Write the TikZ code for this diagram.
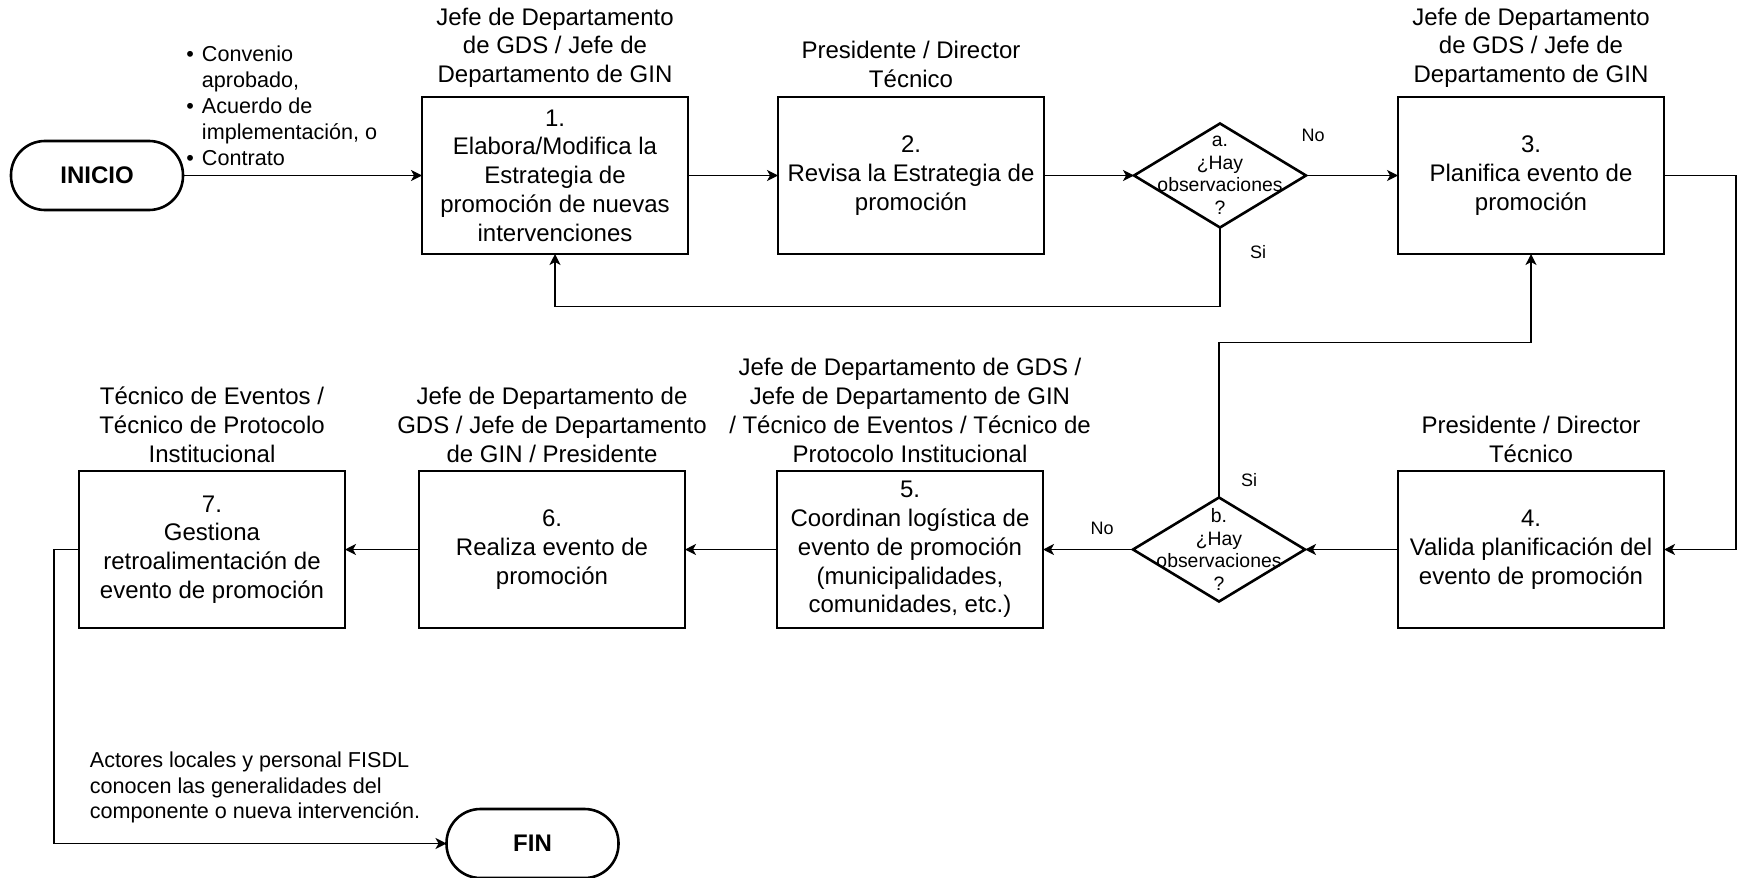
\documentclass[tikz,border=0pt]{standalone}
\usepackage{fontspec}
\setmainfont{Liberation Sans}
\usetikzlibrary{positioning, arrows.meta, shapes.geometric}

\begin{document}
\begin{tikzpicture}[
        node distance=45pt,
        every node/.style={font=\fontsize{12}{14.4}\selectfont},
        task/.style={rectangle, draw, line width=1.3pt, outer sep=0pt, minimum width=133pt, minimum height=78.5pt, align=center, inner sep=2pt},
        terminal/.style={rectangle, rounded corners=17pt, draw, line width=1.3pt, outer sep=0pt, minimum width=86pt, minimum height=34.5pt, font=\fontsize{12}{14.4}\selectfont\bfseries},
        decision/.style={diamond, draw, line width=1.3pt, outer sep=0pt, minimum width=86pt, minimum height=52pt, inner sep=0pt},
        role/.style={align=center, inner sep=0pt},
        note/.style={align=left, inner sep=0pt, font=\fontsize{10.8}{13}\selectfont},
        lbl/.style={inner sep=0pt, font=\fontsize{9}{11.25}\selectfont},
        edge/.style={-{Stealth[length=5.5pt, width=5.5pt, inset=1.5pt]}, line width=0.65pt}
    ]
        \useasboundingbox (0,0) rectangle (871.5pt,-438.5pt);
        % Top row
        \node[task] (t1) at (277.5pt,-87.75pt) {1.\\Elabora/Modifica la\\Estrategia de\\promoción de nuevas\\intervenciones};
        \node[terminal, left=119.5pt of t1] (ini) {INICIO};
        \node[task, right=of t1] (t2) {2.\\Revisa la Estrategia de\\promoción};
        \node[decision, right=of t2, label={[lbl, align=center, font=\fontsize{9.7}{11.25}\selectfont]center:a.\\¿Hay\\observaciones\\?}] (d1) {};
        \node[task, right=46pt of d1] (t3) {3.\\Planifica evento de\\promoción};
        % Bottom row
        \node[task, below=108.5pt of t3] (t4) {4.\\Valida planificación del\\evento de promoción};
        \node[decision, left=46.5pt of t4, label={[lbl, align=center, font=\fontsize{9.7}{11.25}\selectfont]center:b.\\¿Hay\\observaciones\\?}] (d2) {};
        \node[task, left=of d2] (t5) {5.\\Coordinan logística de\\evento de promoción\\(municipalidades,\\comunidades, etc.)};
        \node[task, left=46pt of t5] (t6) {6.\\Realiza evento de\\promoción};
        \node[task, left=37pt of t6] (t7) {7.\\Gestiona\\retroalimentación de\\evento de promoción};
        \node[terminal, below=90.5pt of t6, xshift=-9.75pt] (fin) {FIN};
        % Roles
        \node[role, above=4.5pt of t1] (r1) {Jefe de Departamento\\de GDS / Jefe de\\Departamento de GIN};
        \node[role, above=4.5pt of t2] (r2) {Presidente / Director\\Técnico};
        \node[role, above=4.5pt of t3] (r3) {Jefe de Departamento\\de GDS / Jefe de\\Departamento de GIN};
        \node[role, above=4pt of t4] (r4) {Presidente / Director\\Técnico};
        \node[role, above=4pt of t5] (r5) {Jefe de Departamento de GDS /\\Jefe de Departamento de GIN\\/ Técnico de Eventos / Técnico de\\Protocolo Institucional};
        \node[role, above=4pt of t6] (r6) {Jefe de Departamento de\\GDS / Jefe de Departamento\\de GIN / Presidente};
        \node[role, above=4pt of t7] (r7) {Técnico de Eventos /\\Técnico de Protocolo\\Institucional};
        % Inputs and result
        \node[note, anchor=south west] (inputs) at ([xshift=1.5pt, yshift=4.5pt]ini.east) {\textbullet\hspace{4pt}Convenio\\\hphantom{\textbullet\hspace{4pt}}aprobado,\\\textbullet\hspace{4pt}Acuerdo de\\\hphantom{\textbullet\hspace{4pt}}implementación, o\\\textbullet\hspace{4pt}Contrato};
        \node[note, anchor=south west, font=\fontsize{10.8}{12.75}\selectfont] (result) at ([xshift=-178.5pt, yshift=10pt]fin.west) {Actores locales y personal FISDL\\conocen las generalidades del\\componente o nueva intervención.};
        % Answers
        \node[lbl] (no1) at ([shift={(3.5pt,20pt)}]d1.east) {No};
        \node[lbl] (si1) at ([shift={(19pt,-12.5pt)}]d1.south) {Si};
        \node[lbl] (si2) at ([shift={(15pt,8.5pt)}]d2.north) {Si};
        \node[lbl] (no2) at ([shift={(-15.5pt,10.5pt)}]d2.west) {No};
        % Edges
        \draw[edge] (ini) -- (t1);
        \draw[edge] (t1) -- (t2);
        \draw[edge] (t2) -- (d1);
        \draw[edge] (d1) -- (t3);
        \draw[edge] (d1.south) -- ++(0,-39.5pt) -| (t1.south);
        \draw[edge] (t3.east) -- ++(36pt,0) |- (t4.east);
        \draw[edge] (t4) -- (d2);
        \draw[edge] (d2.north) -- ++(0,77.5pt) -| (t3.south);
        \draw[edge] (d2) -- (t5);
        \draw[edge] (t5) -- (t6);
        \draw[edge] (t6) -- (t7);
        \draw[edge] (t7.west) -- ++(-12.5pt,0) |- (fin.west);
    \end{tikzpicture}
\end{document}
